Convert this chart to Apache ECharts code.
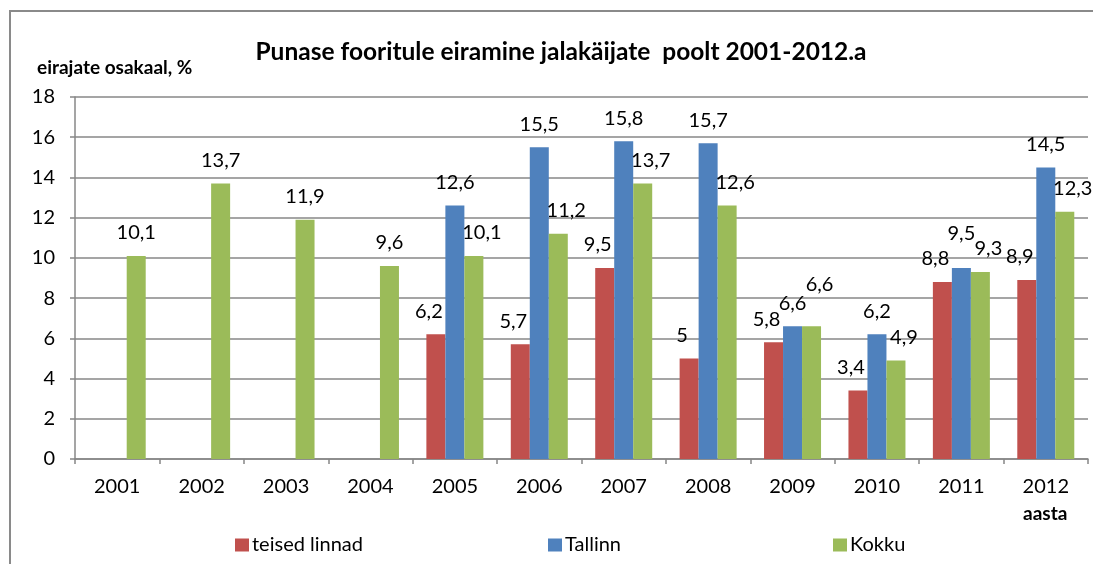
<!DOCTYPE html>
<html>
<head>
<meta charset="utf-8">
<script src="https://cdn.jsdelivr.net/npm/echarts@6/dist/echarts.min.js"></script>
<style>
	html, body { margin: 0; padding: 0; background: #fff; }
	#chart { width: 1093px; height: 564px; }
</style>
</head>
<body>
<div id="chart"></div>
<script>
	// andmed
	const years = ['2001', '2002', '2003', '2004', '2005', '2006', '2007', '2008', '2009', '2010', '2011', '2012'];
	const teisedLinnad = [null, null, null, null, 6.2, 5.7, 9.5, 5, 5.8, 3.4, 8.8, 8.9];
	const tallinn = [null, null, null, null, 12.6, 15.5, 15.8, 15.7, 6.6, 6.2, 9.5, 14.5];
	const kokku = [10.1, 13.7, 11.9, 9.6, 10.1, 11.2, 13.7, 12.6, 6.6, 4.9, 9.3, 12.3];
	const yTicks = [0, 2, 4, 6, 8, 10, 12, 14, 16, 18];

	// mõned sildid on originaalis käsitsi kõrgemale tõstetud
	const liftTallinn = { 10: -11 };
	const liftKokku = { 8: -19 };

	const font = 'Lato, "Open Sans", sans-serif';
	const gridColor = '#878787';

	function makeBar(name, data, color, dx, lift) {
		const items = data.map(function (v, i) {
			// kui teisi tulpi pole, on silt keskel
			const alone = teisedLinnad[i] == null && tallinn[i] == null;
			return {
				value: v,
				label: { offset: [alone ? 0 : dx, lift[i] || 0] }
			};
		});
		return {
			name: name,
			type: 'bar',
			data: items,
			barWidth: 19,
			barGap: '0%',
			itemStyle: { color: color },
			label: {
				show: true,
				position: 'top',
				distance: 13,
				color: '#000',
				fontFamily: font,
				fontSize: 20,
				formatter: function (p) {
					return p.value == null ? '' : String(p.value).replace('.', ',');
				}
			}
		};
	}

	function makeLegend(name, left) {
		return {
			data: [name],
			left: left,
			top: 535,
			padding: 0,
			itemWidth: 14,
			itemHeight: 13,
			itemGap: 0,
			icon: 'rect',
			textStyle: { fontFamily: font, fontSize: 20, color: '#000', padding: [0, 0, 0, -2] }
		};
	}

	let chart = echarts.init(document.getElementById('chart'));
	const option = {
		animation: false,
		title: {
			text: 'Punase fooritule eiramine jalakäijate  poolt 2001-2012.a',
			left: 556,
			textAlign: 'center',
			top: 35,
			textStyle: {
				fontFamily: font,
				fontSize: 24.5,
				fontWeight: 'bold',
				color: '#000'
			}
		},
		legend: [
			makeLegend('teised linnad', 235),
			makeLegend('Tallinn', 548),
			makeLegend('Kokku', 833)
		],
		grid: {
			left: 75,
			right: 5,
			top: 97,
			bottom: 105
		},
		xAxis: {
			type: 'category',
			data: years,
			axisLine: { lineStyle: { color: gridColor, width: 1.5 } },
			axisTick: { show: true, length: 5, lineStyle: { color: gridColor, width: 1.5 } },
			axisLabel: { color: '#000', fontFamily: font, fontSize: 20, margin: 18 }
		},
		yAxis: {
			type: 'value',
			min: yTicks[0],
			max: yTicks[yTicks.length - 1],
			interval: 2,
			name: 'eirajate osakaal, %',
			nameLocation: 'end',
			nameGap: 20,
			nameTextStyle: {
				fontFamily: font,
				fontSize: 19,
				fontWeight: 'bold',
				color: '#000',
				align: 'left',
				padding: [0, 0, 0, -38]
			},
			axisLine: { show: true, lineStyle: { color: gridColor, width: 1.5 } },
			axisTick: { show: true, length: 5, lineStyle: { color: gridColor, width: 1.5 } },
			axisLabel: { color: '#000', fontFamily: font, fontSize: 20, margin: 20 },
			splitLine: { lineStyle: { color: gridColor, width: 1.5 } }
		},
		graphic: [
			{
				type: 'rect',
				silent: true,
				shape: { x: 10, y: 11, width: 1200, height: 700 },
				style: { fill: 'none', stroke: '#8a8a8a', lineWidth: 2 }
			},
			{
				type: 'text',
				left: 1023,
				top: 504,
				style: {
					text: 'aasta',
					fontFamily: font,
					fontSize: 19,
					fontWeight: 'bold',
					fill: '#000'
				}
			}
		],
		series: [
			makeBar('teised linnad', teisedLinnad, '#C0504D', -7, {}),
			makeBar('Tallinn', tallinn, '#4F81BD', 0, liftTallinn),
			makeBar('Kokku', kokku, '#9BBB59', 8, liftKokku)
		]
	};
	chart.setOption(option);
	window.addEventListener('resize', function () {
		chart.resize();
	});
</script>
</body>
</html>
